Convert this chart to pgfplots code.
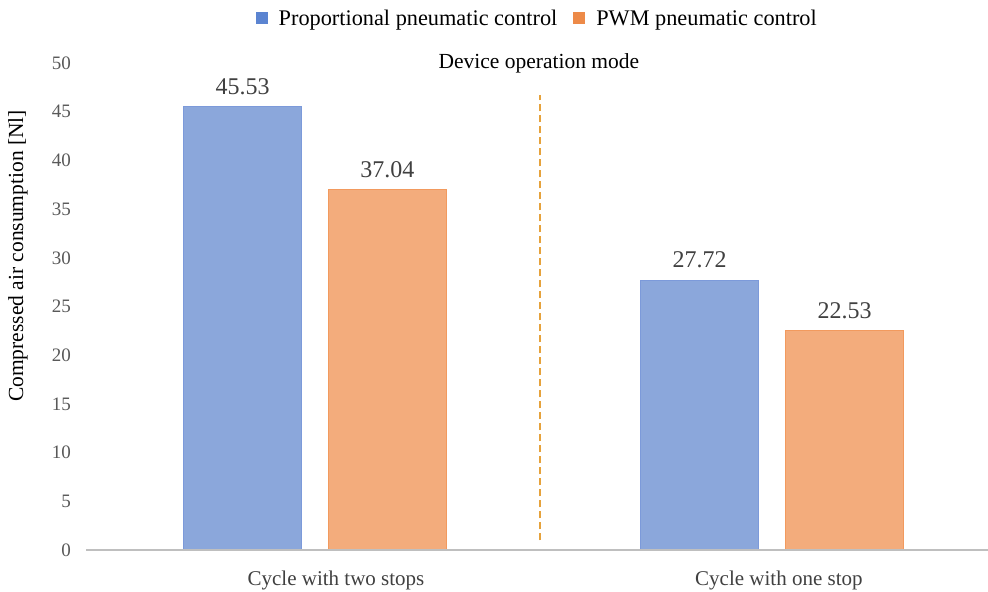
\documentclass[border=0pt]{standalone}
\usepackage{fontspec}
\setmainfont{Liberation Serif}
\usepackage{pgfplots}
\pgfplotsset{compat=1.18}
\definecolor{bluefill}{HTML}{8BA7DB}
\definecolor{orangefill}{HTML}{F3AC7C}
\definecolor{blueedge}{HTML}{7C9ADA}
\definecolor{orangeedge}{HTML}{F29A5E}
\definecolor{legblue}{HTML}{5B84D1}
\definecolor{legorange}{HTML}{ED8A48}
\definecolor{tickgray}{HTML}{595959}
\definecolor{valgray}{HTML}{404040}
\definecolor{axisgray}{HTML}{BFBFBF}
\definecolor{dashgold}{HTML}{E6A23C}
\begin{document}
\begin{tikzpicture}
\path[use as bounding box] (-86.5bp,-42bp) rectangle (901.5bp,550bp);
\begin{axis}[
  at={(0,0)}, anchor=south west,
  scale only axis,
  width=901.5bp, height=487bp,
  xmin=-0.5, xmax=1.4726,
  ymin=0, ymax=50,
  ytick={0,5,...,50},
  xtick={0.046,1.015},
  xticklabels={Cycle with two stops, Cycle with one stop},
  axis x line*=bottom, axis y line*=left,
  x axis line style={draw=none}, y axis line style={draw=none},
  major tick length=0pt,
  /pgf/number format/assume math mode=true,
  ybar, bar width=0.26,
  xticklabel style={font=\fontsize{21bp}{25bp}\selectfont, text=valgray, yshift=-17bp},
  yticklabel style={font=\fontsize{19bp}{22bp}\selectfont, text=tickgray, xshift=-12bp},
  legend style={at={(0.5,1.092)}, anchor=center, legend columns=2, draw=none,
    font=\fontsize{22.3bp}{26bp}\selectfont,
    /tikz/every odd column/.append style={column sep=9bp},
    /tikz/every even column/.append style={column sep=14bp}},
  nodes near coords,
  nodes near coords style={font=\fontsize{24bp}{28bp}\selectfont, text=valgray, anchor=south, yshift=8bp,
     /pgf/number format/.cd, fixed, fixed zerofill, precision=2},
  clip=false,
]
\addplot[draw=blueedge, line width=1bp, fill=bluefill, bar shift=-0.1586,
  legend image code/.code={\fill[legblue] (0bp,-5.5bp) rectangle (11bp,5.5bp);}] coordinates {(0,45.53) (1,27.72)};
\addlegendentry{Proportional pneumatic control}
\addplot[draw=orangeedge, line width=1bp, fill=orangefill, bar shift=0.1586,
  legend image code/.code={\fill[legorange] (0bp,-5.5bp) rectangle (11bp,5.5bp);}] coordinates {(0,37.04) (1,22.53)};
\addlegendentry{PWM pneumatic control}
\draw[axisgray, line width=2bp] (rel axis cs:0,0) -- (rel axis cs:1,0);
\draw[dashgold, line width=2bp, dash pattern=on 7bp off 4bp] (axis cs:0.493,1) -- (axis cs:0.493,46.7);
\node[font=\fontsize{21.5bp}{25bp}\selectfont, text=black] at (axis cs:0.49,50) {Device operation mode};
\end{axis}
\node[rotate=90, font=\fontsize{21.5bp}{25bp}\selectfont, text=black] at (-68.5bp,294bp) {Compressed air consumption [Nl]};
\end{tikzpicture}
\end{document}
